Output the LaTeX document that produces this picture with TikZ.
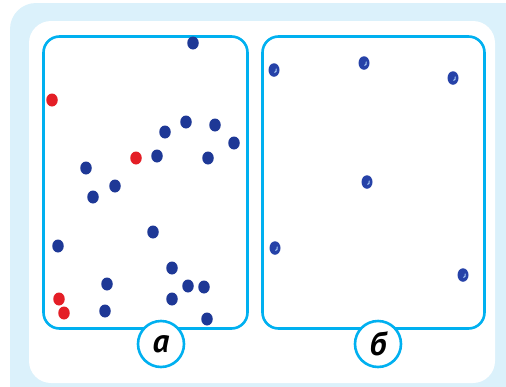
\documentclass[tikz,border=0pt]{standalone}
\usepackage{fontspec}
\newfontfamily\tagfont{PT Sans}
\usepackage{tikz}
\usetikzlibrary{shapes.geometric, calc}
\definecolor{bgblue}{RGB}{219,241,251}
\definecolor{framecyan}{RGB}{0,176,240}
\definecolor{dotblue}{RGB}{30,56,150}
\definecolor{dotsky}{RGB}{38,66,168}
\definecolor{dotred}{RGB}{228,30,38}
\definecolor{dotshine}{RGB}{160,195,240}
\tikzset{
  panel/.style={draw=framecyan, fill=white, line width=2.6pt, rounded corners=16pt},
  tag/.style={circle, draw=framecyan, fill=white, line width=2.6pt,
    minimum size=46pt, inner sep=0pt,
    font=\tagfont\bfseries\itshape\fontsize{33}{33}\selectfont},
  bdot/.style={ellipse, fill=dotblue, minimum width=11.5pt, minimum height=13pt, inner sep=0pt},
  rdot/.style={ellipse, fill=dotred, minimum width=11.5pt, minimum height=13pt, inner sep=0pt},
  sdot/.style={ellipse, fill=dotsky, minimum width=11pt, minimum height=13.5pt, inner sep=0pt,
    path picture={\draw[dotshine, line width=1.1pt, line cap=round]
      ($(path picture bounding box.center)+(2.2pt,1pt)$) arc (25:-75:2.4pt);}}
}

\begin{document}
\begin{tikzpicture}[x=1pt, y=-1pt]
    \useasboundingbox (0,0) rectangle (506,386);

    % Backdrop
    \fill[bgblue, rounded corners=26pt] (10,3) rectangle (560,430);
    \fill[white, rounded corners=22pt] (29,21) rectangle (495,383);

    % Frames
    \draw[panel] (43.5,36.5) rectangle (247.5,328.5);
    \draw[panel] (262.5,36.5) rectangle (484.5,328.5);

    % Left frame (a)
    \node[bdot] (a1) at (193,43) {};
    \node[rdot] (a2) at (52,100) {};
    \node[bdot] (a3) at (186,122) {};
    \node[bdot] (a4) at (165,132) {};
    \node[bdot] (a5) at (215,125) {};
    \node[bdot] (a6) at (234,143) {};
    \node[rdot] (a7) at (136,158) {};
    \node[bdot] (a8) at (157,156) {};
    \node[bdot] (a9) at (208,158) {};
    \node[bdot] (a10) at (86,168) {};
    \node[bdot] (a11) at (115,186) {};
    \node[bdot] (a12) at (93,197) {};
    \node[bdot] (a13) at (153,232) {};
    \node[bdot] (a14) at (58,246) {};
    \node[bdot] (a15) at (172,268) {};
    \node[bdot] (a16) at (107,284) {};
    \node[bdot] (a17) at (188,286) {};
    \node[bdot] (a18) at (204,287) {};
    \node[rdot] (a19) at (59,299) {};
    \node[rdot] (a20) at (64,313) {};
    \node[bdot] (a21) at (105,311) {};
    \node[bdot] (a22) at (172,299) {};
    \node[bdot] (a23) at (207,319) {};

    % Right frame (b)
    \node[sdot] (b1) at (274,70) {};
    \node[sdot] (b2) at (364,63) {};
    \node[sdot] (b3) at (453,78) {};
    \node[sdot] (b4) at (367,182) {};
    \node[sdot] (b5) at (275,248) {};
    \node[sdot] (b6) at (463,275) {};

    % Tags
    \node[tag] (taga) at (161,344) {а};
    \node[tag] (tagb) at (378,344) {б};
\end{tikzpicture}
\end{document}
